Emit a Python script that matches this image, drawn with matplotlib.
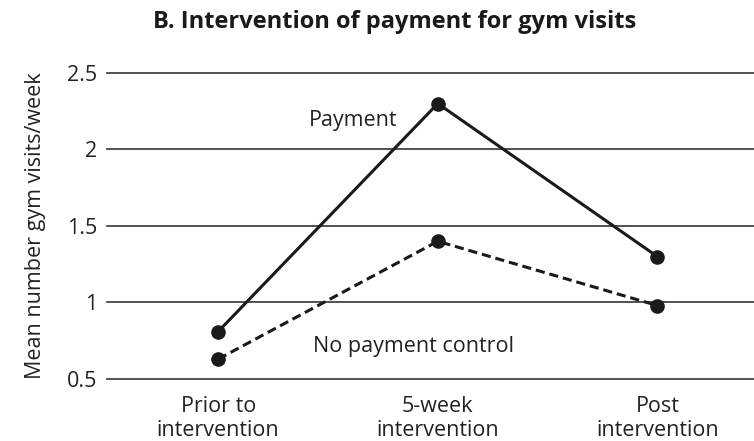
import matplotlib.pyplot as plt

plt.rcParams['font.family'] = ['Open Sans', 'DejaVu Sans']

phases = ["Prior to\nintervention", "5-week\nintervention", "Post\nintervention"]
payment = [0.81, 2.30, 1.30]
no_payment = [0.63, 1.40, 0.98]
yticks = [0.5, 1, 1.5, 2, 2.5]
ytick_labels = ["0.5", "1", "1.5", "2", "2.5"]

fig = plt.figure(figsize=(7.54, 4.41), dpi=100)
ax = fig.add_axes([0.142, 0.1406, 0.858, 0.694])

x = list(range(len(phases)))

for y in yticks:
    ax.axhline(y, color="#333333", lw=1.2, zorder=1, clip_on=False)

ax.plot(x, payment, color="#1a1a1a", lw=2.2, marker="o", ms=9.5, zorder=3, clip_on=False)
ax.plot(x, no_payment, color="#1a1a1a", lw=2.2, ls=(0, (3, 1.6)), marker="o", ms=9.5,
        zorder=3, clip_on=False)

ax.text(0.615, 2.19, "Payment", fontsize=15.5, color="#222222", ha="center", va="center")
ax.text(0.89, 0.71, "No payment control", fontsize=15.5, color="#222222", ha="center", va="center")

ax.set_xlim(-0.506, 2.44)
ax.set_ylim(0.5, 2.5)
ax.set_xticks(x)
ax.set_xticklabels(phases, fontsize=15.5, color="#222222", linespacing=1.2)
ax.set_yticks(yticks)
ax.set_yticklabels(ytick_labels, fontsize=15.5, color="#222222")
ax.tick_params(length=0, pad=7)
ax.tick_params(axis="x", pad=12)
for s in ax.spines.values():
    s.set_visible(False)

ax.set_ylabel("Mean number gym visits/week", fontsize=15.5, color="#222222", labelpad=15)
fig.text(0.524, 0.95, "B. Intervention of payment for gym visits", fontsize=17,
         fontweight="bold", color="#1a1a1a", ha="center", va="center")

fig.savefig("out.png", dpi=100, facecolor="white")
